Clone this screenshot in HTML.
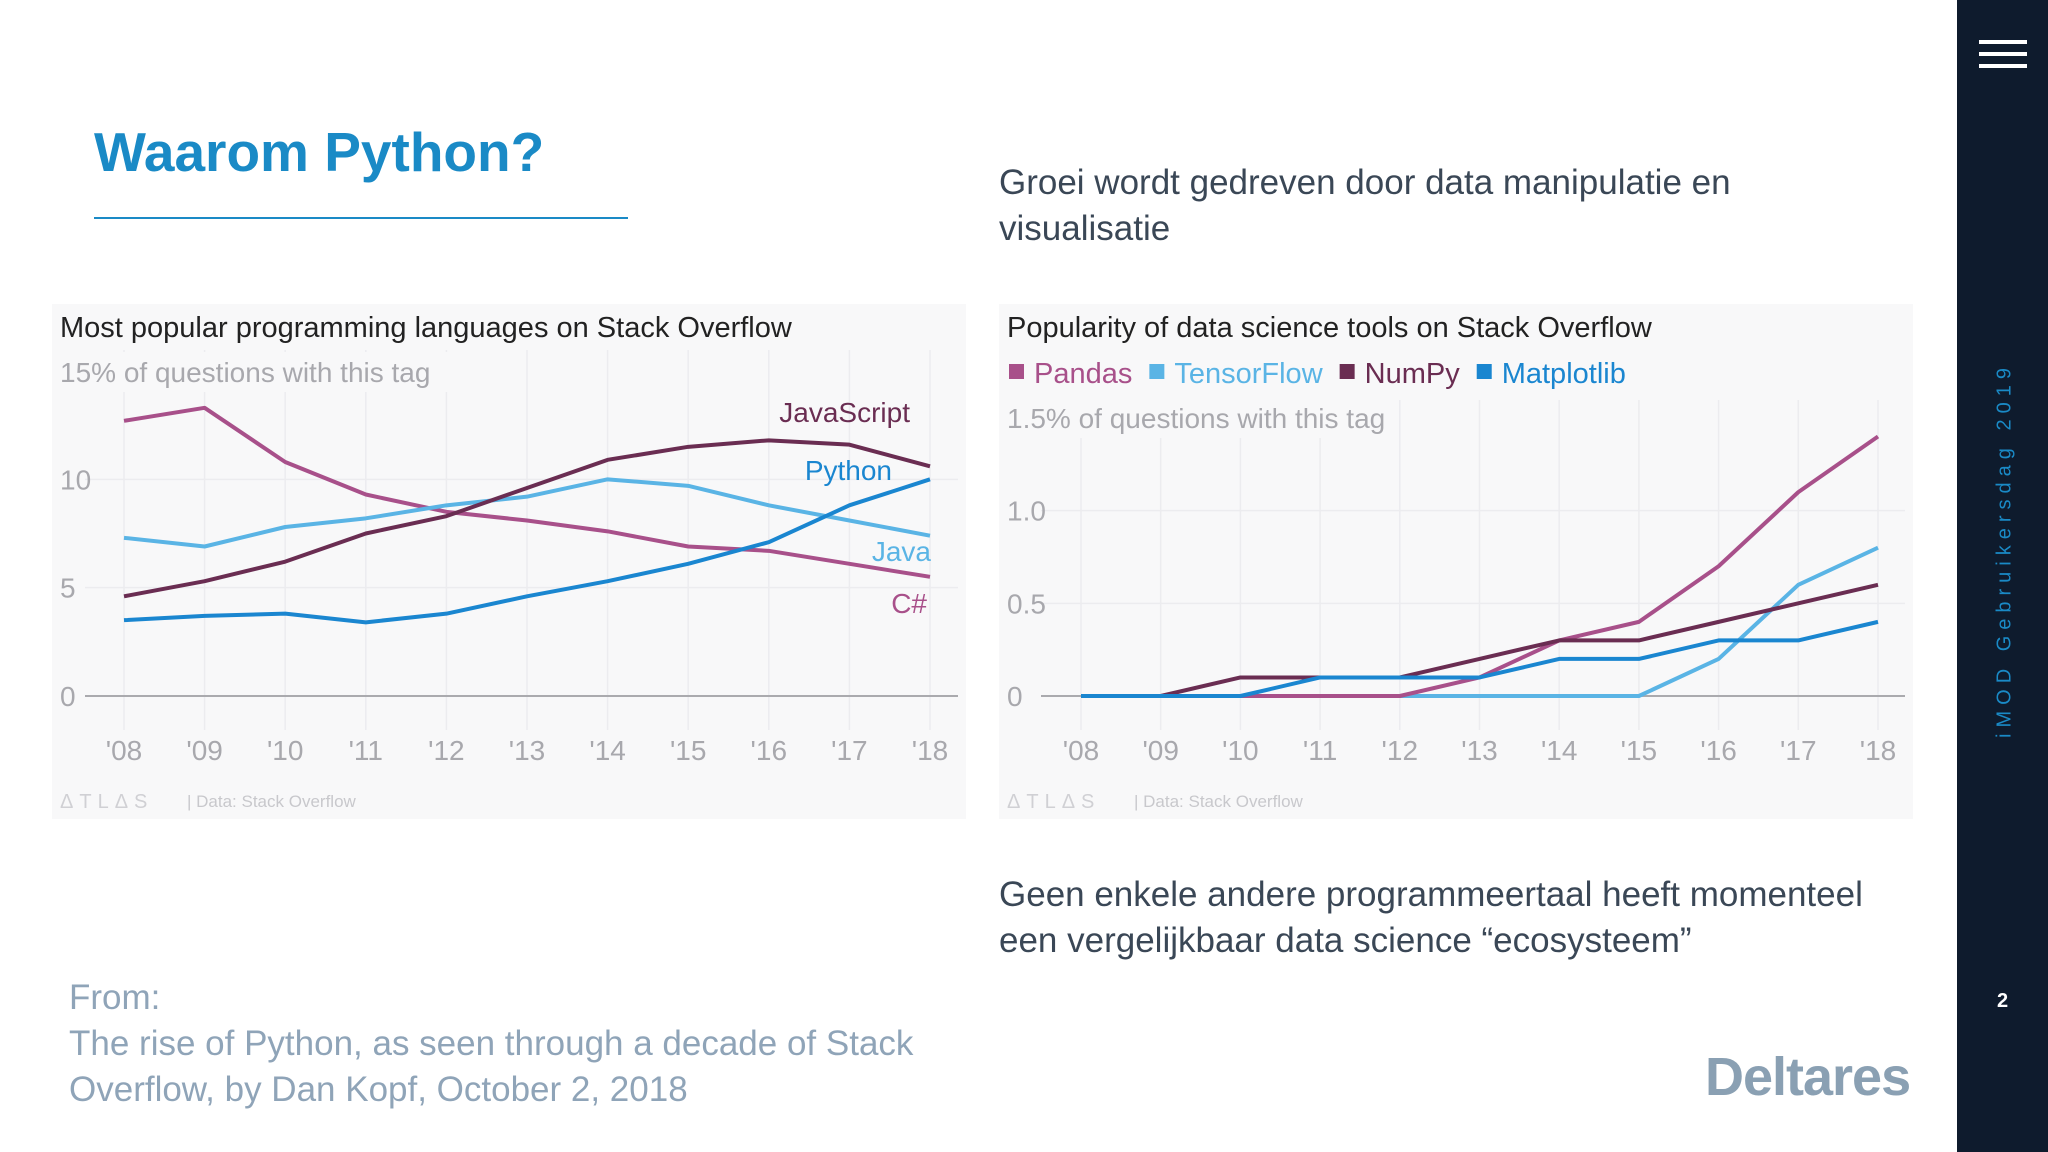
<!DOCTYPE html>
<html><head><meta charset="utf-8"><style>
body{margin:0;width:2048px;height:1152px;background:#fff;font-family:"Liberation Sans",sans-serif;overflow:hidden;position:relative}
.abs{position:absolute}
</style></head><body>
<div class="abs" style="left:94px;top:120px;font-size:55px;font-weight:bold;color:#1a8ac6">Waarom Python?</div>
<div class="abs" style="left:94px;top:217px;width:534px;height:2px;background:#1a8ac6"></div>
<div class="abs" style="left:999px;top:160px;font-size:35px;line-height:46px;color:#3a4756">Groei wordt gedreven door data manipulatie en<br>visualisatie</div>
<div class="abs" style="left:999px;top:872px;font-size:35px;line-height:46px;color:#3a4756">Geen enkele andere programmeertaal heeft momenteel<br>een vergelijkbaar data science “ecosysteem”</div>
<div class="abs" style="left:69px;top:975px;font-size:35px;line-height:46px;color:#8fa4b8">From:<br>The rise of Python, as seen through a decade of Stack<br>Overflow, by Dan Kopf, October 2, 2018</div>
<div class="abs" style="left:1705px;top:1046px;font-size:54px;font-weight:bold;color:#8aa0b3;letter-spacing:-1px">Deltares</div>
<div class="abs" style="left:1957px;top:0;width:91px;height:1152px;background:#0e1b2d"></div>
<div class="abs" style="left:1979px;top:40px;width:48px;height:30px">
<div style="height:4px;background:#fff;margin-bottom:8px"></div><div style="height:4px;background:#fff;margin-bottom:8px"></div><div style="height:4px;background:#fff"></div></div>
<div class="abs" style="left:2005px;top:550px;transform:translate(-50%,-50%) rotate(-90deg);white-space:nowrap;font-size:20px;letter-spacing:6px;color:#1a8ac6">iMOD Gebruikersdag 2019</div>
<div class="abs" style="left:1997px;top:990px;font-size:20px;font-weight:bold;color:#fff">2</div>
<svg class="abs" style="left:0;top:0" width="2048" height="1152">
<g id="c1"></g>
<g id="c2"></g>
</svg>
<script>
const years=["'08","'09","'10","'11","'12","'13","'14","'15","'16","'17","'18"];
const csharp=[12.7,13.3,10.8,9.3,8.5,8.1,7.6,6.9,6.7,6.1,5.5];
const javascript=[4.6,5.3,6.2,7.5,8.3,9.6,10.9,11.5,11.8,11.6,10.6];
const java=[7.3,6.9,7.8,8.2,8.8,9.2,10.0,9.7,8.8,8.1,7.4];
const python=[3.5,3.7,3.8,3.4,3.8,4.6,5.3,6.1,7.1,8.8,10.0];
const leftTicks=[0,5,10];
const pandas=[0,0,0,0,0,0.1,0.3,0.4,0.7,1.1,1.4];
const tensorflow=[0,0,0,0,0,0,0,0,0.2,0.6,0.8];
const numpy=[0,0,0.1,0.1,0.1,0.2,0.3,0.3,0.4,0.5,0.6];
const matplotlib=[0,0,0,0.1,0.1,0.1,0.2,0.2,0.3,0.3,0.4];
const rightTicks=[0,0.5,1.0];
const NS="http://www.w3.org/2000/svg";
function el(p,t,a,txt){const e=document.createElementNS(NS,t);for(const k in a)e.setAttribute(k,a[k]);if(txt!==undefined)e.textContent=txt;p.appendChild(e);return e;}
function chart(g,o){
  const bg=el(g,'rect',{x:o.px,y:304,width:914,height:515,fill:'#f8f8f9'});
  
  
  const X=i=>o.x0+(o.x1-o.x0)*i/(years.length-1);
  const Y=v=>o.y0-(o.y0-o.ytop)*v/o.ymax;
  years.forEach((y,i)=>{
    const l=el(g,'line',{x1:X(i),x2:X(i),y1:o.gridTop,y2:730,stroke:'#ececef','stroke-width':1.5});
    
    
    const t=el(g,'text',{x:X(i),y:760,'text-anchor':'middle','font-size':28,fill:'#a8a8ad'},y);
    
    
  });
  o.ticks.forEach(v=>{
    const l=el(g,'line',{x1:o.px+o.gx,x2:o.px+906,y1:Y(v),y2:Y(v),stroke:v===0?'#aaaaae':'#ececef','stroke-width':v===0?2:1.5});
    
    
    const t=el(g,'text',{x:o.px+8,y:Y(v)+10,'font-size':28,fill:'#a8a8ad'},o.fmt(v));
    
    
  });
  const tl=el(g,'text',{x:o.px+8,y:337,'font-size':29,fill:'#222'},o.title);
  
  
  el(g,'rect',{x:o.px+6,y:o.subY-30,width:o.subW,height:40,fill:'#f8f8f9'});
  const sb=el(g,'text',{x:o.px+8,y:o.subY,'font-size':28,fill:'#a8a8ad'},o.sub);
  
  
  o.series.forEach(s=>{
    const p=el(g,'polyline',{points:s.d.map((v,i)=>X(i)+','+Y(v)).join(' '),fill:'none',stroke:s.c,'stroke-width':4,'stroke-linejoin':'round'});
    
    
  });
  const f=el(g,'text',{x:o.px+8,y:808,'font-size':20,fill:'#d0d0d4','letter-spacing':6},'ΔTLΔS');
  
  
  const f2=el(g,'text',{x:o.px+135,y:807,'font-size':17,fill:'#c8c8cc'},'|   Data: Stack Overflow');
  
  
}
const c1=document.getElementById('c1'),c2=document.getElementById('c2');
chart(c1,{px:52,gx:33,x0:124,x1:930,y0:696,ytop:371,ymax:15,gridTop:350,ticks:leftTicks,fmt:v=>String(v),
 title:'Most popular programming languages on Stack Overflow',sub:'15% of questions with this tag',subY:382,subW:390,
 series:[{n:'CSharp',d:csharp,c:'#a8508a'},{n:'Java',d:java,c:'#5ab4e5'},{n:'JavaScript',d:javascript,c:'#6a2d52'},{n:'Python',d:python,c:'#1a86d0'}]});
chart(c2,{px:999,gx:42,x0:1081,x1:1878,y0:696,ytop:418,ymax:1.5,gridTop:400,ticks:rightTicks,fmt:v=>v===0?'0':v.toFixed(1),
 title:'Popularity of data science tools on Stack Overflow',sub:'1.5% of questions with this tag',subY:428,subW:390,
 series:[{n:'TensorFlow',d:tensorflow,c:'#5ab4e5'},{n:'Pandas',d:pandas,c:'#a8508a'},{n:'NumPy',d:numpy,c:'#6a2d52'},{n:'Matplotlib',d:matplotlib,c:'#1a86d0'}]});
[['JavaScript',910,422,'#6a2d52'],['Python',892,480,'#1a86d0'],['Java',931,561,'#5ab4e5'],['C#',927,613,'#a8508a']].forEach(a=>{
  const t=el(c1,'text',{x:a[1],y:a[2],'text-anchor':'end','font-size':28,fill:a[3]},a[0]);
  
  
});
const leg=[['Pandas','#a8508a'],['TensorFlow','#5ab4e5'],['NumPy','#6a2d52'],['Matplotlib','#1a86d0']];
let lx=1009;
leg.forEach(a=>{
  el(c2,'rect',{x:lx,y:364,width:15,height:15,fill:a[1]});
  const t=el(c2,'text',{x:lx+25,y:383,'font-size':29,fill:a[1]},a[0]);
  
  
  lx+=25+t.getComputedTextLength()+17;
});
</script>
</body></html>
